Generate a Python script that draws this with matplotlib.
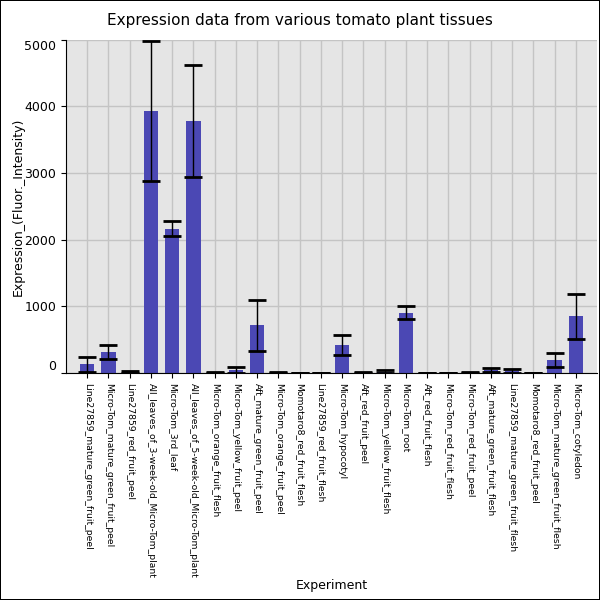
import numpy as np
import matplotlib
matplotlib.use("Agg")
import matplotlib.pyplot as plt

experiments = [
    "Line27859_mature_green_fruit_peel",
    "Micro-Tom_mature_green_fruit_peel",
    "Line27859_red_fruit_peel",
    "All_leaves_of_3-week-old_Micro-Tom_plant",
    "Micro-Tom_3rd_leaf",
    "All_leaves_of_5-week-old_Micro-Tom_plant",
    "Micro-Tom_orange_fruit_flesh",
    "Micro-Tom_yellow_fruit_peel",
    "Aft_mature_green_fruit_peel",
    "Micro-Tom_orange_fruit_peel",
    "Momotaro8_red_fruit_flesh",
    "Line27859_red_fruit_flesh",
    "Micro-Tom_hypocotyl",
    "Aft_red_fruit_peel",
    "Micro-Tom_yellow_fruit_flesh",
    "Micro-Tom_root",
    "Aft_red_fruit_flesh",
    "Micro-Tom_red_fruit_flesh",
    "Micro-Tom_red_fruit_peel",
    "Aft_mature_green_fruit_flesh",
    "Line27859_mature_green_fruit_flesh",
    "Momotaro8_red_fruit_peel",
    "Micro-Tom_mature_green_fruit_flesh",
    "Micro-Tom_cotyledon",
]
expression = [135, 320, 20, 3930, 2165, 3780, 10, 45, 715, 15, 5, 5,
              430, 10, 25, 905, 5, 5, 8, 50, 35, 5, 205, 850]
errors = [110, 100, 10, 1050, 110, 840, 5, 45, 375, 8, 3, 3,
          150, 8, 20, 100, 3, 3, 5, 30, 25, 3, 105, 330]

fig = plt.figure(figsize=(6, 6), dpi=100)
fig.patch.set_edgecolor("black")
fig.patch.set_linewidth(1.2)
ax = fig.add_axes([0.11, 0.378, 0.885, 0.556])
ax.set_facecolor("#e5e5e5")

x = np.arange(len(experiments))
ax.bar(x, expression, width=0.68, color="#4b48b4", zorder=2)
ax.errorbar(x, expression, yerr=errors, fmt="none", ecolor="black",
            elinewidth=1.0, capsize=6.5, capthick=2, zorder=3)

ax.set_xlim(-1, len(experiments))
ax.set_ylim(0, 5000)
ax.set_xticks(x)
ax.set_xticklabels(experiments, rotation=-90, fontsize=6.7)
ax.set_yticks([0, 1000, 2000, 3000, 4000, 5000])
ax.tick_params(axis="y", labelsize=9)
ylabels = ax.get_yticklabels()
ylabels[0].set_va("bottom")
ylabels[-1].set_va("top")

ax.grid(True, color="#c4c4c4", linewidth=1, zorder=0)
ax.set_axisbelow(True)
for side in ["top", "right"]:
    ax.spines[side].set_visible(False)

fig.suptitle("Expression data from various tomato plant tissues",
             fontsize=11, x=0.5, y=0.965, va="center")
ax.set_xlabel("Experiment", fontsize=9, va="center")
ax.set_ylabel("Expression_(Fluor._Intensity)", fontsize=9, va="center")
ax.xaxis.set_label_coords(0.5, -0.636)
ax.yaxis.set_label_coords(-0.09, 0.5)

fig.savefig("out.png", dpi=100, edgecolor=fig.get_edgecolor())
